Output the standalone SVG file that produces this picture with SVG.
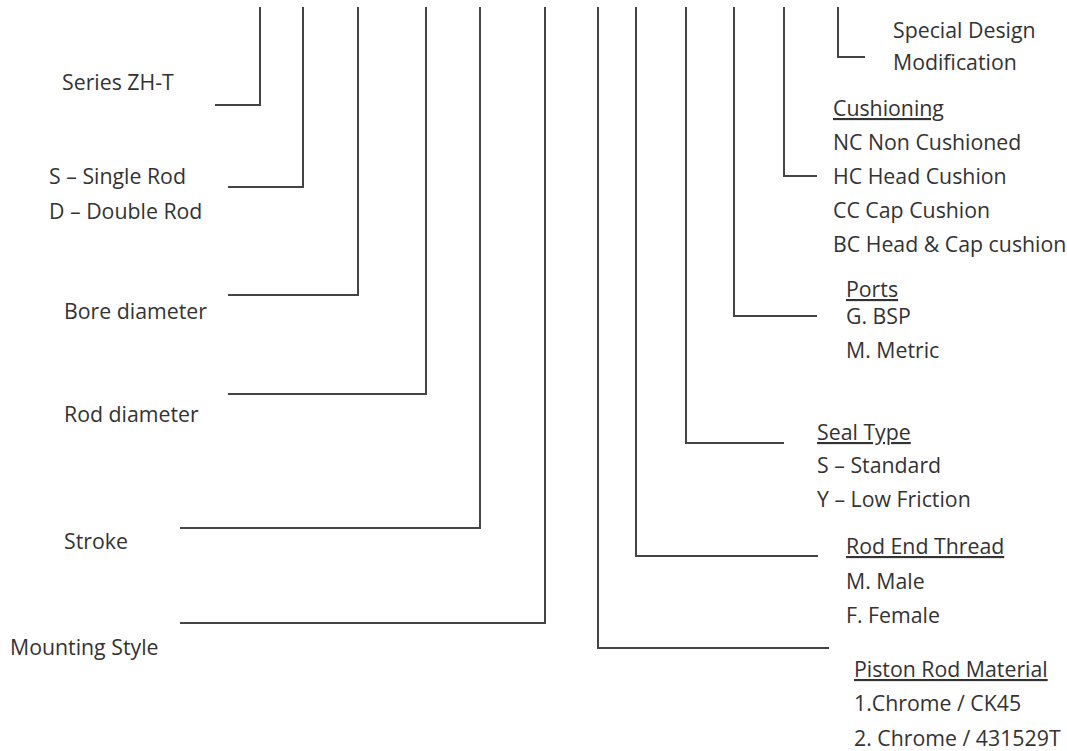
<svg xmlns="http://www.w3.org/2000/svg" width="1067" height="751" viewBox="0 0 1067 751">
<style>
.t{font-family:"Open Sans","Liberation Sans",sans-serif;font-size:21.3px;fill:#333}
.u{text-decoration:underline}
.c{fill:none;stroke:#444;stroke-width:2}
</style>
<rect width="1067" height="751" fill="#fff"/>
<g id="connectors">
<polyline class="c" points="260,7 260,105 215,105"/>
<polyline class="c" points="303,7 303,187 228,187"/>
<polyline class="c" points="358,7 358,295 228,295"/>
<polyline class="c" points="426,7 426,394 228,394"/>
<polyline class="c" points="480,7 480,528 180,528"/>
<polyline class="c" points="545,7 545,623 180,623"/>
<polyline class="c" points="598,7 598,648 829,648"/>
<polyline class="c" points="636,7 636,556 818,556"/>
<polyline class="c" points="686,7 686,443 784,443"/>
<polyline class="c" points="734,7 734,316 817,316"/>
<polyline class="c" points="784,7 784,176 817,176"/>
<polyline class="c" points="838,7 838,57 865,57"/>
</g>
<g id="series"><text class="t" x="62" y="90">Series ZH-T</text></g>
<g id="rod-type"><text class="t" x="49" y="184">S – Single Rod</text><text class="t" x="49" y="219">D – Double Rod</text></g>
<g id="bore"><text class="t" x="64" y="319">Bore diameter</text></g>
<g id="rod-dia"><text class="t" x="64" y="422">Rod diameter</text></g>
<g id="stroke"><text class="t" x="64" y="549">Stroke</text></g>
<g id="mounting"><text class="t" x="10" y="655">Mounting Style</text></g>
<g id="special"><text class="t" x="893" y="38">Special Design</text><text class="t" x="893" y="70">Modification</text></g>
<g id="cushioning"><text class="t u" x="833" y="116">Cushioning</text><text class="t" x="833" y="150">NC Non Cushioned</text><text class="t" x="833" y="184">HC Head Cushion</text><text class="t" x="833" y="218">CC Cap Cushion</text><text class="t" x="833" y="252">BC Head &amp; Cap cushion</text></g>
<g id="ports"><text class="t u" x="846" y="297">Ports</text><text class="t" x="846" y="324">G. BSP</text><text class="t" x="846" y="358">M. Metric</text></g>
<g id="seal"><text class="t u" x="817" y="440">Seal Type</text><text class="t" x="817" y="473">S – Standard</text><text class="t" x="817" y="507">Y – Low Friction</text></g>
<g id="thread"><text class="t u" x="846" y="554">Rod End Thread</text><text class="t" x="846" y="589">M. Male</text><text class="t" x="846" y="623">F. Female</text></g>
<g id="material"><text class="t u" x="854" y="677">Piston Rod Material</text><text class="t" x="854" y="711">1.Chrome / CK45</text><text class="t" x="854" y="746">2. Chrome / 431529T</text></g>
</svg>
